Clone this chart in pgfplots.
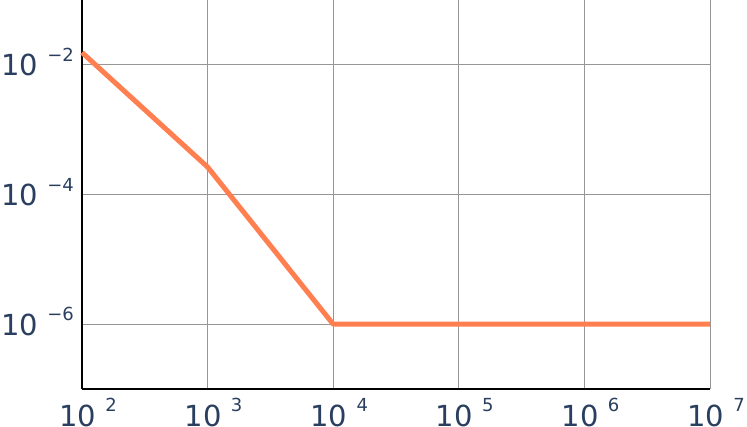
\documentclass[border=0pt]{standalone}
\usepackage{pgfplots}
\pgfplotsset{compat=1.18}
\usepackage{fontspec}
\setmainfont{DejaVu Sans}
\usetikzlibrary{calc}
\definecolor{ink}{RGB}{42,63,95}
\definecolor{coral}{RGB}{255,127,80}
\definecolor{gridgray}{RGB}{150,150,150}
\newcommand{\tl}[1]{10\hspace{0.32em}\raisebox{0.5em}{\fontsize{18bp}{18bp}\selectfont #1}}

\begin{document}
\begin{tikzpicture}
\begin{axis}[name=ax,
  scale only axis,width=628bp,height=389bp,
  xmode=log,ymode=log,
  xmin=1e2,xmax=1e7,ymin=1e-7,ymax=1e-1,
  axis x line=bottom,axis y line=left,
  axis line style={black,line width=2.5bp,-},
  xtick={1e2,1e3,1e4,1e5,1e6,1e7},
  xticklabels={\tl{2},\tl{3},\tl{4},\tl{5},\tl{6},\tl{7}},
  ytick={1e-2,1e-4,1e-6},
  yticklabels={\tl{−2},\tl{−4},\tl{−6}},
  major tick length=0pt,minor tick num=0,
  xminorticks=false,yminorticks=false,
  grid=major,grid style={gridgray,line width=1bp},
  tick label style={font=\fontsize{29bp}{29bp}\selectfont,text=ink,inner sep=0pt},
  xticklabel style={anchor=base,yshift=-37bp,xshift=6bp},
  yticklabel style={anchor=base east,xshift=-8bp,yshift=-11bp},
  clip=false]
\addplot[coral,line width=5bp,line join=round] coordinates {
  (1e2,1.55e-2) (1e3,2.65e-4) (1e4,1e-6) (1e5,1e-6) (1e6,1e-6) (1e7,1e-6)};
\end{axis}
\pgfresetboundingbox
\path[use as bounding box] ($(ax.south west)+(-82bp,-38bp)$) rectangle ($(ax.north east)+(37bp,0bp)$);
\end{tikzpicture}
\end{document}
